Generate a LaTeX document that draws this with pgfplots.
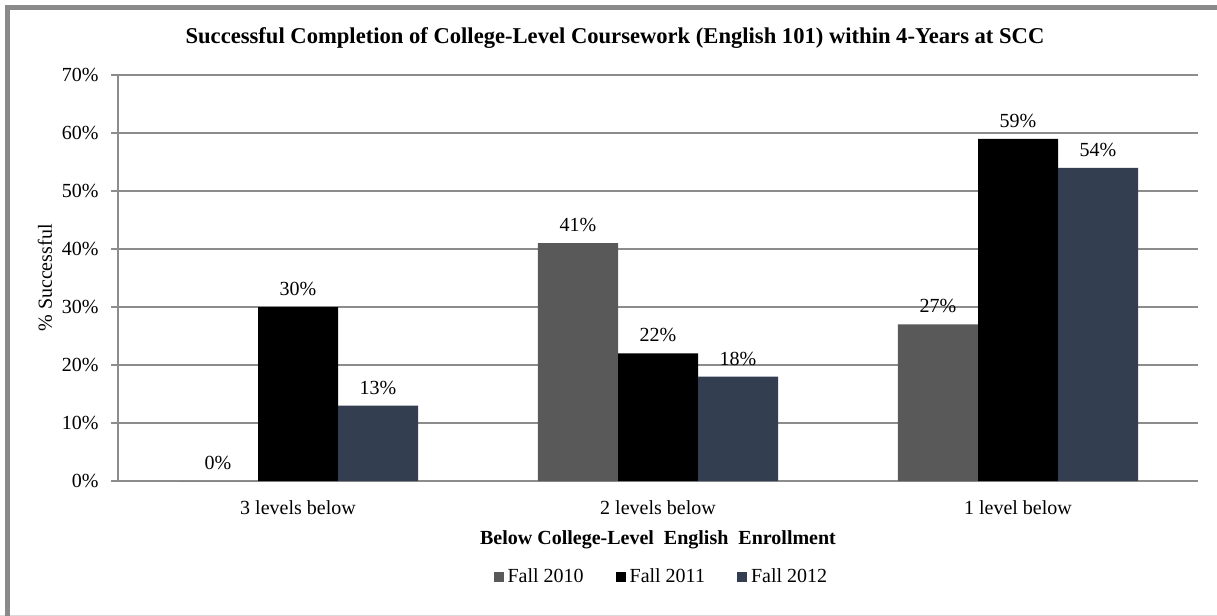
\documentclass[border=0pt]{standalone}
\usepackage{fontspec}
\setmainfont{Liberation Serif}
\usepackage{pgfplots}
\pgfplotsset{compat=1.18}
\definecolor{gridGray}{HTML}{8C8C8C}
\definecolor{frameGray}{HTML}{8A8A8A}
\definecolor{fallA}{HTML}{595959}
\definecolor{fallB}{HTML}{000000}
\definecolor{fallC}{HTML}{333F50}

\begin{document}
\begin{tikzpicture}[x=1pt,y=1pt]
\useasboundingbox (0,0) rectangle (608.5,308);
\fill[white] (0,0) rectangle (608.5,308);
% outer frame: thick gray on left and top, faint line at the bottom
\draw[line width=0.5pt, gray!30] (0,0.25) -- (608.5,0.25);
\draw[line width=2.5pt, frameGray] (3.75,0) -- (3.75,304.25) -- (608.5,304.25);

\node[font=\bfseries\fontsize{11.3}{13}\selectfont] at (307.5,289)
  {Successful Completion of College-Level Coursework (English 101) within 4-Years at SCC};

\begin{axis}[
    at={(59pt,67.5pt)}, anchor=south west,
    scale only axis,
    width=540pt, height=203pt,
    ybar=0pt,
    bar width=40pt,
    xmin=-0.5, xmax=2.5,
    ymin=0, ymax=70,
    xtick={0,1,2},
    xticklabels={3 levels below, 2 levels below, 1 level below},
    ytick={0,10,...,70},
    yticklabels={0\%,10\%,20\%,30\%,40\%,50\%,60\%,70\%},
    /pgf/number format/assume math mode=true,
    axis x line*=bottom,
    axis y line*=left,
    axis line style={gridGray, line width=0.75pt},
    ymajorgrids,
    grid style={gridGray, line width=0.75pt},
    xtick style={draw=none},
    ytick style={gridGray, line width=0.75pt},
    tick align=outside,
    major tick length=3.5pt,
    tick label style={font=\fontsize{10}{12}\selectfont},
    xticklabel style={anchor=center, yshift=-10pt},
    yticklabel style={anchor=east, inner sep=0pt, xshift=-6pt},
    ylabel={\% Successful},
    ylabel style={at={(axis description cs:-0.0676,0.5)}, anchor=center,
                  font=\fontsize{10}{12}\selectfont},
    xlabel={Below College-Level\ \ English\ \ Enrollment},
    xlabel style={at={(axis description cs:0.5,-0.145)}, anchor=center,
                  font=\bfseries\fontsize{10}{12}\selectfont},
    nodes near coords={\pgfmathprintnumber{\pgfplotspointmeta}\%},
    every node near coord/.append style={anchor=center, yshift=9pt,
                  font=\fontsize{10}{12}\selectfont, text=black},
    legend columns=3,
    legend style={at={(axis description cs:0.504,-0.2365)}, anchor=center,
                  draw=none, font=\fontsize{10}{12}\selectfont,
                  /tikz/every even column/.append style={column sep=14pt}},
    legend image code/.code={\fill[#1,draw=none] (0pt,-2.5pt) rectangle (5pt,2.5pt);},
]
  \addplot[fill=fallA, draw=none] coordinates {(0,0) (1,41) (2,27)};
  \addplot[fill=fallB, draw=none] coordinates {(0,30) (1,22) (2,59)};
  \addplot[fill=fallC, draw=none] coordinates {(0,13) (1,18) (2,54)};
  \legend{Fall 2010, Fall 2011, Fall 2012}
\end{axis}
\end{tikzpicture}
\end{document}
